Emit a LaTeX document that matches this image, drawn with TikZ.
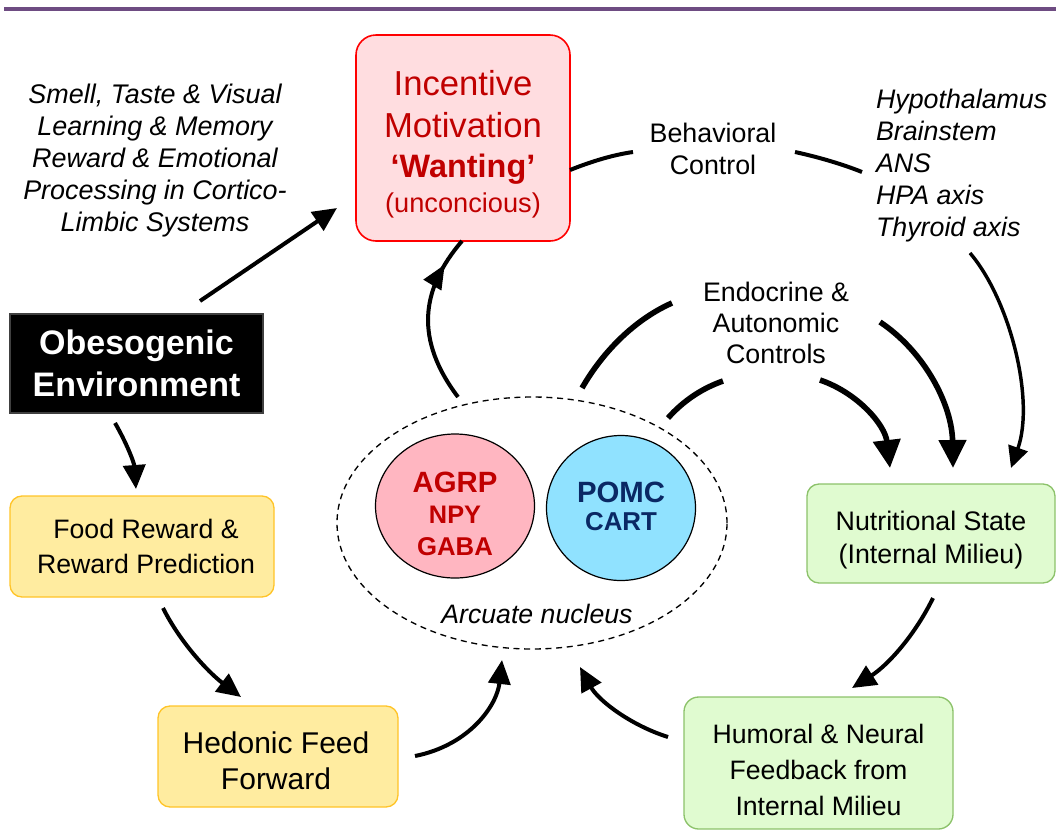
\documentclass[tikz,border=0pt]{standalone}
\usepackage{fontspec}
\setmainfont{Liberation Sans}
\usetikzlibrary{arrows.meta,shapes.geometric,decorations.markings}
\definecolor{topline}{RGB}{110,76,130}
\definecolor{incfill}{RGB}{255,221,224}
\definecolor{incdraw}{RGB}{255,0,0}
\definecolor{darkred}{RGB}{192,0,0}
\definecolor{yfill}{RGB}{255,236,160}
\definecolor{ydraw}{RGB}{255,196,40}
\definecolor{gfill}{RGB}{224,251,208}
\definecolor{gdraw}{RGB}{140,194,106}
\definecolor{pinkfill}{RGB}{255,182,193}
\definecolor{bluefill}{RGB}{144,226,255}
\definecolor{navy}{RGB}{10,40,100}
\newcommand{\fsz}[2]{\fontsize{#1}{#2}\selectfont}
\begin{document}
\begin{tikzpicture}[x=0.75pt,y=-0.75pt,
  every node/.style={inner sep=0pt, outer sep=0pt},
  box/.style={rounded corners=9pt, line width=1pt, align=center},
  lbl/.style={align=center},
  conn/.style={line width=3pt, -{Triangle[length=18pt,width=16.5pt]}},
  thinarr/.style={line width=2.6pt, -{Triangle[length=16pt,width=15pt]}},
  heavy/.style={line width=4.2pt, -{Triangle[length=21pt,width=20pt]}},
  plain/.style={line width=3pt},
  heavyplain/.style={line width=4.2pt}]
\useasboundingbox (0,0) rectangle (1056,829);
\clip (0,0) rectangle (1056,829);

% top rule
\coordinate (ruleL) at (4,9);
\coordinate (ruleR) at (1056,9);
\draw[topline, line width=2.3pt] (ruleL) -- (ruleR);

% Incentive motivation box
\node[box, rounded corners=15pt, fill=incfill, draw=incdraw, line width=1.2pt,
      minimum width=160.5pt, minimum height=154.5pt] (inc) at (463,138) {};
\node[anchor=base, text=darkred, font={\fsz{26}{30}}] (incA) at (463,95) {Incentive};
\node[anchor=base, text=darkred, font={\fsz{26}{30}}] (incB) at (463,137) {Motivation};
\node[anchor=base, text=darkred, font={\bfseries\fsz{24.3}{28}}] (incC) at (463,177) {‘Wanting’};
\node[anchor=base, text=darkred, font={\fsz{20.4}{24}}] (incD) at (463,212) {(unconcious)};

% free labels
\node[lbl, font={\itshape\fsz{20.2}{24}}] (smell) at (155,161)
  {Smell, Taste \& Visual\\Learning \& Memory\\Reward \& Emotional\\Processing in Cortico-\\Limbic Systems};
\node[lbl, font={\fsz{20.1}{24}}] (behav) at (713,149) {Behavioral\\Control};
\node[align=left, anchor=west, font={\itshape\fsz{20.1}{24}}] (hypo) at (876,166)
  {Hypothalamus\\Brainstem\\ANS\\HPA axis\\Thyroid axis};
\node[lbl, font={\fsz{20.1}{23.25}}] (endo) at (776,323) {Endocrine \&\\Autonomic\\Controls};

% Obesogenic environment
\node[box, rounded corners=0pt, fill=black, draw=black!75, line width=0.8pt, text=white,
      minimum width=189.75pt, minimum height=74.25pt, font={\bfseries\fsz{25.5}{31.5}}]
  (obes) at (136.5,363.5) {Obesogenic\\Environment};

% Food reward
\node[box, fill=yfill, draw=ydraw, minimum width=198pt, minimum height=75.75pt,
      font={\fsz{20}{26.25}}] (food) at (142,546.5) {\hspace*{6pt}Food Reward \&\\\hspace*{6pt}Reward Prediction};

% Hedonic feed forward
\node[box, fill=yfill, draw=ydraw, minimum width=180pt, minimum height=75.75pt] (hed) at (278,756.5) {};
\node[lbl, font={\fsz{22.5}{27}}] (hedT) at (276,761) {Hedonic Feed\\Forward};

% Nutritional state
\node[box, fill=gfill, draw=gdraw, minimum width=186pt, minimum height=74.25pt] (nut) at (931,533.5) {};
\node[lbl, font={\fsz{20.1}{24.75}}] (nutT) at (931,540) {Nutritional State\\(Internal Milieu)};

% Humoral feedback
\node[box, rounded corners=11pt, fill=gfill, draw=gdraw, minimum width=201.75pt, minimum height=99pt]
  (hum) at (818.5,763) {};
\node[lbl, font={\fsz{20}{27}}] (humT) at (818.5,770) {Humoral \& Neural\\Feedback from\\Internal Milieu};

% Arcuate nucleus
\node[ellipse, draw, dashed, dash pattern=on 4.5pt off 3.5pt, line width=1pt,
      minimum width=292.5pt, minimum height=189pt] (arc) at (532,523) {};
\node[ellipse, draw, fill=pinkfill, line width=0.9pt, minimum width=119.25pt, minimum height=108pt] (agrp) at (455,506) {};
\node[ellipse, draw, fill=bluefill, line width=0.9pt, minimum width=111.75pt, minimum height=108.75pt] (pomc) at (621,508) {};
\node[anchor=base, text=darkred, font={\bfseries\fsz{22}{26}}] (agrpA) at (455,492) {AGRP};
\node[anchor=base, text=darkred, font={\bfseries\fsz{19}{23}}] (agrpB) at (455,523) {NPY};
\node[anchor=base, text=darkred, font={\bfseries\fsz{19.3}{23}}] (agrpC) at (455,555) {GABA};
\node[anchor=base, text=navy, font={\bfseries\fsz{22}{26}}] (pomcA) at (621,502) {POMC};
\node[anchor=base, text=navy, font={\bfseries\fsz{19.4}{23}}] (pomcB) at (621,530) {CART};
\node[anchor=base, font={\itshape\fsz{20}{23}}] (arcT) at (537,623) {Arcuate nucleus};

% connectors
\coordinate (smS) at (200,301); \coordinate (smE) at (337,208);
\draw[conn] (smS) -- (smE);

\coordinate (ofS) at (115,423); \coordinate (ofE) at (136,489);
\draw[conn] (ofS) .. controls (126,442) and (134,462) .. (ofE);

\coordinate (fhS) at (163,608); \coordinate (fhE) at (241,697);
\draw[conn] (fhS) .. controls (180,642) and (208,672) .. (fhE);

\coordinate (haS) at (415,756); \coordinate (haE) at (502,660);
\draw[conn] (haS) .. controls (470,745) and (497,705) .. (haE);

\coordinate (huS) at (668,737); \coordinate (huE) at (580,667);
\draw[conn] (huS) .. controls (630,725) and (598,700) .. (huE);

\coordinate (nhS) at (933,598); \coordinate (nhE) at (852,688);
\draw[conn] (nhS) .. controls (915,635) and (888,665) .. (nhE);

\coordinate (aiS) at (458,397); \coordinate (aiE) at (462,241);
\draw[plain, postaction=decorate,
  decoration={markings, mark=at position 0.83 with {\arrow{Triangle[length=18pt,width=15pt]}}}]
  (aiS) .. controls (415,340) and (420,290) .. (aiE);

\coordinate (b1S) at (570,170); \coordinate (b1E) at (633,152);
\draw[plain] (b1S) .. controls (590,162) and (612,155) .. (b1E);
\coordinate (b2S) at (795,152); \coordinate (b2E) at (862,172);
\draw[plain] (b2S) .. controls (818,157) and (842,164) .. (b2E);

\coordinate (rS) at (970,253); \coordinate (rE) at (1011,468);
\draw[thinarr] (rS) .. controls (1010,300) and (1035,400) .. (rE);

\coordinate (eaS) at (582,388); \coordinate (eaM) at (672,303);
\draw[heavyplain] (eaS) .. controls (605,348) and (638,318) .. (eaM);
\coordinate (eaN) at (880,322); \coordinate (eaE) at (953,468);
\draw[heavy] (eaN) .. controls (925,352) and (952,405) .. (eaE);

\coordinate (ebS) at (668,418); \coordinate (ebM) at (723,381);
\draw[heavyplain] (ebS) .. controls (684,400) and (703,388) .. (ebM);
\coordinate (ebN) at (820,380); \coordinate (ebE) at (890,468);
\draw[heavy] (ebN) .. controls (858,393) and (885,425) .. (ebE);
\end{tikzpicture}
\end{document}
